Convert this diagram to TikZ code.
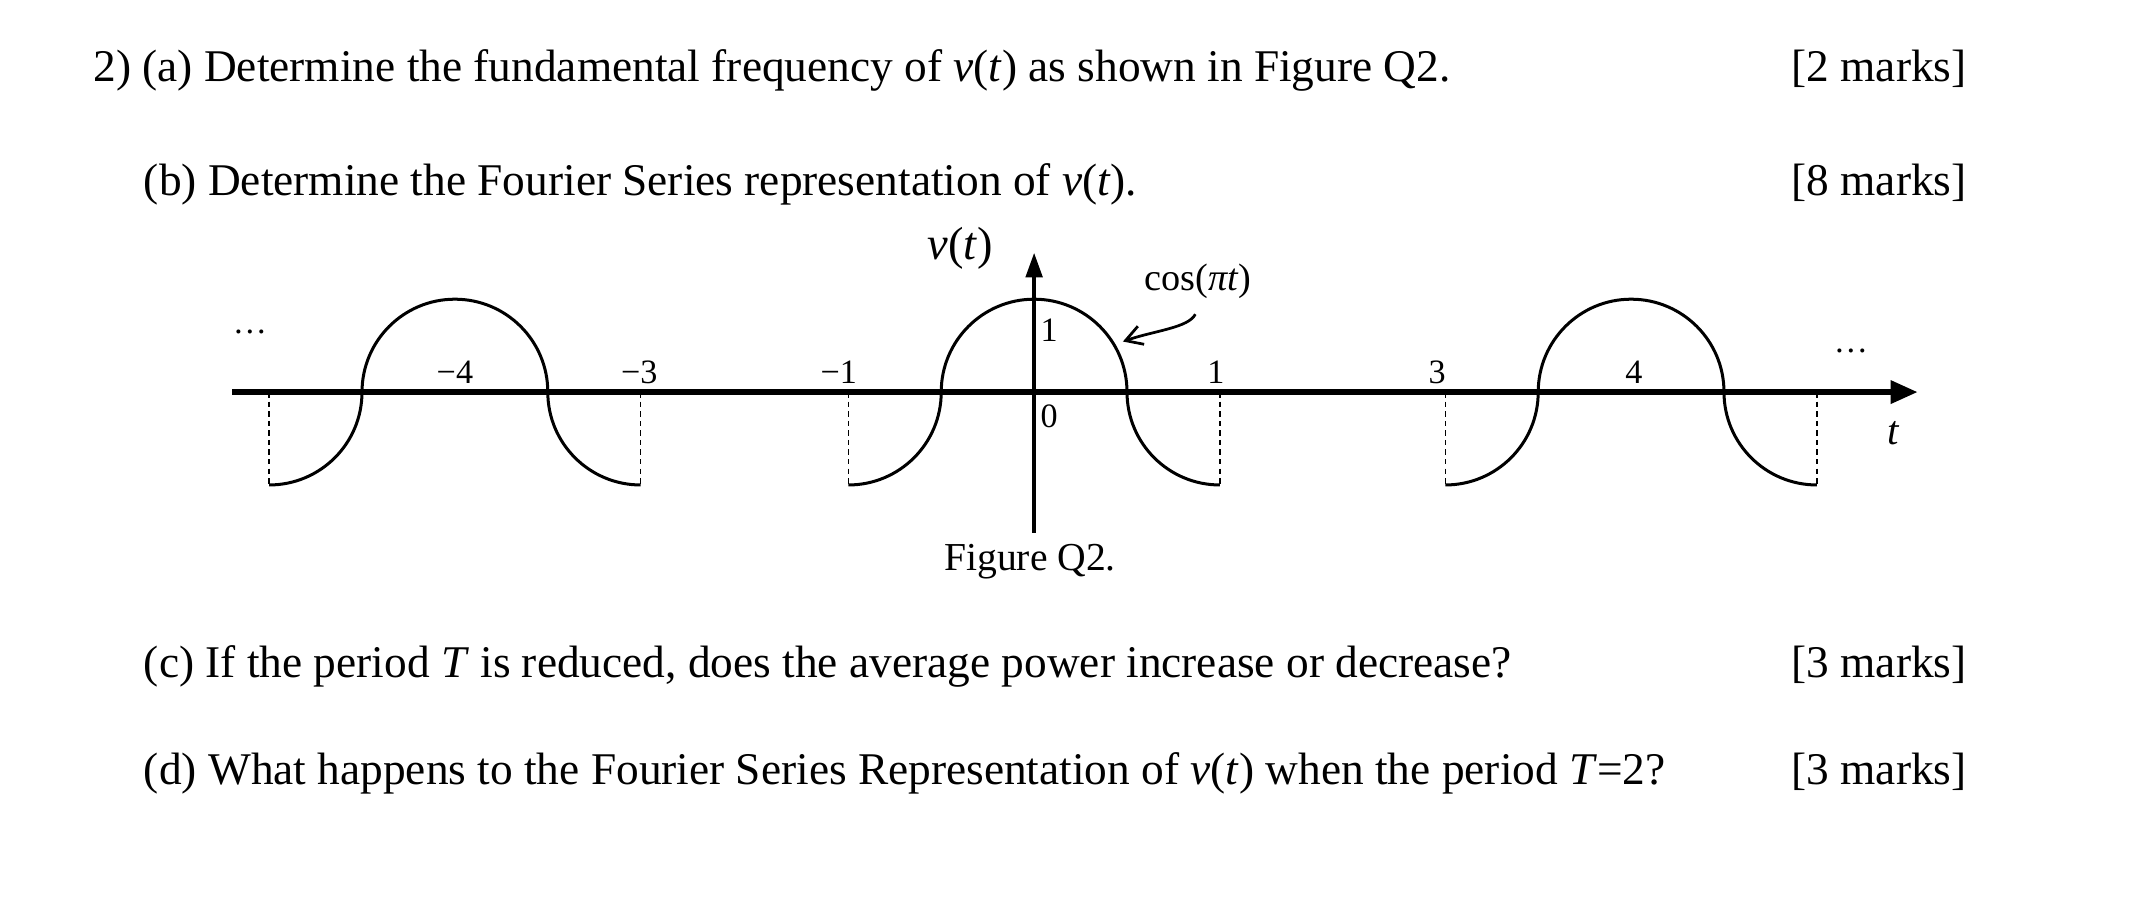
\documentclass[tikz,border=0pt]{standalone}
\usepackage{fontspec}
\setmainfont{Liberation Serif}
\usetikzlibrary{arrows.meta}
\begin{document}
\begin{tikzpicture}[x=0.5pt,y=-0.5pt,
  txt/.style={anchor=base west,inner sep=0,font=\fontsize{16.6}{18}\selectfont},
  mk/.style={anchor=base east,inner sep=0,font=\fontsize{16.6}{18}\selectfont},
  lab/.style={inner sep=0,font=\fontsize{12.5}{14}\selectfont},
  wave/.style={line width=1.1pt},
  dashln/.style={line width=0.5pt,dash pattern=on 2pt off 1.5pt}]
\useasboundingbox (0,0) rectangle (1568,661);
% text lines
\node[txt] (qa) at (68,60) {2) (a) Determine the fundamental frequency of \textit{v}(\textit{t}) as shown in Figure Q2.};
\node[mk] (ma) at (1440,60) {[2 marks]};
\node[txt] (qb) at (105,143) {(b) Determine the Fourier Series representation of \textit{v}(\textit{t}).};
\node[mk] (mb) at (1440,143) {[8 marks]};
\node[txt] (qc) at (105,496) {(c) If the period \textit{T} is reduced, does the average power increase or decrease?};
\node[mk] (mc) at (1440,496) {[3 marks]};
\node[txt] (qd) at (105,574) {(d) What happens to the Fourier Series Representation of \textit{v}(\textit{t}) when the period \textit{T}=2?};
\node[mk] (md) at (1440,574) {[3 marks]};
% axes
\coordinate (xs) at (170,287); \coordinate (xe) at (1404,287);
\coordinate (ys) at (757,390); \coordinate (ye) at (757,185);
\draw[line width=2.4pt,-{Triangle[length=10pt,width=8pt]}] (xs) -- (xe);
\draw[line width=1.4pt,-{Triangle[length=9pt,width=6pt]}] (ys) -- (ye);
% waves (circular arcs)
\foreach \c in {333,757,1194}{
  \draw[wave] (\c-136,355) arc[start angle=90,end angle=0,x radius=68,y radius=68]
     arc[start angle=180,end angle=360,x radius=68,y radius=68]
     arc[start angle=180,end angle=90,x radius=68,y radius=68];
  \draw[dashln] (\c-136,287) -- (\c-136,355);
  \draw[dashln] (\c+136,287) -- (\c+136,355);
}
% labels
\node[lab,anchor=base] (l4m) at (333,281) {\textminus4};
\node[lab,anchor=base] (l3m) at (468,281) {\textminus3};
\node[lab,anchor=base] (l1m) at (614,281) {\textminus1};
\node[lab,anchor=base] (l1) at (890,281) {1};
\node[lab,anchor=base] (l3) at (1052,281) {3};
\node[lab,anchor=base] (l4) at (1196,281) {4};
\node[lab,anchor=base] (one) at (768,250) {1};
\node[lab,anchor=base] (zero) at (768,313) {0};
\node[lab] (dl) at (183,243) {\dots};
\node[lab] (dr) at (1355,257) {\dots};
\node[lab,font=\fontsize{15}{16}\selectfont] (tt) at (1386,317) {\textit{t}};
\node[lab,font=\fontsize{17}{18}\selectfont] (vt) at (703,182) {\textit{v}(\textit{t})};
\node[lab,font=\fontsize{14}{15}\selectfont] (cs) at (877,206) {cos(\textit{πt})};
\coordinate (ca) at (875,230);
\coordinate (cb) at (822,250);
\draw[line width=1pt,-{Straight Barb[length=6pt,width=7pt]}] (ca) .. controls (870,240) and (845,242) .. (cb);
\node[lab,font=\fontsize{14.5}{15}\selectfont] (fig) at (754,411) {Figure Q2.};
\end{tikzpicture}
\end{document}
